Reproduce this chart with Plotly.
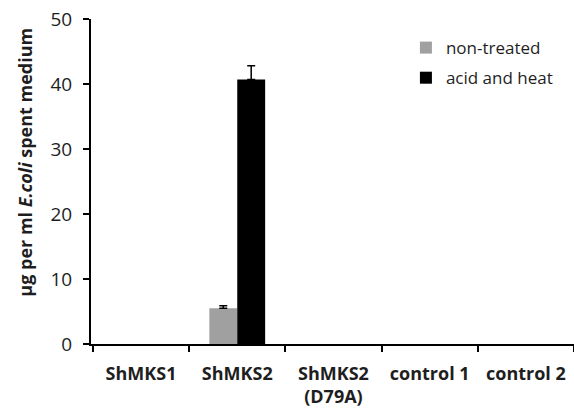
import plotly.graph_objects as go

categories = ["ShMKS1", "ShMKS2", "ShMKS2<br>(D79A)", "control 1", "control 2"]
non_treated = [0, 5.5, 0, 0, 0]
non_treated_err = [0, 0.4, 0, 0, 0]
acid_heat = [0, 40.7, 0, 0, 0]
acid_heat_err = [0, 2.1, 0, 0, 0]
y_title = "μg per ml <i>E.coli</i> spent medium"

FONT = "Open Sans, Liberation Sans, sans-serif"
TXT = "#1e1e1e"


def hide_zero(vals):
    return [v if v else None for v in vals]


fig = go.Figure()
fig.add_trace(go.Bar(
    x=categories, y=hide_zero(non_treated), name="non-treated",
    marker=dict(color="#a0a0a0", line=dict(width=0)),
    error_y=dict(type="data", array=non_treated_err, symmetric=False,
                 arrayminus=[0] * len(non_treated_err), color="black", thickness=1.5, width=4),
    legendgroup="a",
))
fig.add_trace(go.Bar(
    x=categories, y=hide_zero(acid_heat), name="acid and heat",
    marker=dict(color="#000000", line=dict(width=0)),
    error_y=dict(type="data", array=acid_heat_err, symmetric=False,
                 arrayminus=[0] * len(acid_heat_err), color="black", thickness=1.5, width=4),
    legendgroup="b",
))

fig.add_annotation(
    text=y_title, xref="paper", yref="paper", x=-0.1365, y=0.558,
    xanchor="center", yanchor="middle", textangle=-90, showarrow=False,
    font=dict(size=18, family=FONT, color=TXT, weight="bold"),
)

fig.update_layout(
    width=574, height=417,
    margin=dict(l=91, r=0, t=19, b=73, autoexpand=False),
    paper_bgcolor="white", plot_bgcolor="white",
    barmode="group", bargap=0.42, bargroupgap=0,
    font=dict(family=FONT, color=TXT),
    legend=dict(x=0.652, y=0.966, xanchor="left", yanchor="top",
                font=dict(size=17, color=TXT), tracegroupgap=5,
                bgcolor="rgba(0,0,0,0)"),
    xaxis=dict(
        type="category", range=[-0.52, 4.5], automargin=False,
        showline=True, linecolor="black", linewidth=2,
        ticks="outside", tickson="boundaries", ticklen=6, tickwidth=2, tickcolor="black",
        tickfont=dict(size=18, family=FONT, color=TXT, weight="bold"),
        ticklabelstandoff=12, ticklabeloverflow="allow",
        showgrid=False, zeroline=False,
    ),
    yaxis=dict(
        range=[0, 50], tickvals=[0, 10, 20, 30, 40, 50], automargin=False,
        showline=True, linecolor="black", linewidth=2,
        ticks="outside", ticklen=6, tickwidth=2, tickcolor="black",
        tickfont=dict(size=19, family=FONT, color=TXT),
        ticklabelstandoff=7, ticklabeloverflow="allow",
        showgrid=False, zeroline=False,
    ),
)

fig.write_html("out.html", config={"displayModeBar": False},
               post_script="document.body.style.margin='0';")
